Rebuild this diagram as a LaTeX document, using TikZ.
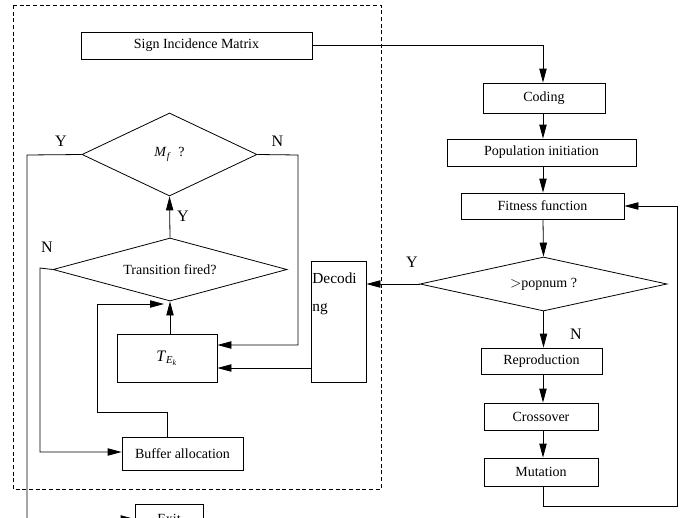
\documentclass[tikz,border=0pt]{standalone}
\usepackage{fontspec}
\setmainfont{Liberation Serif}
\usetikzlibrary{arrows.meta,shapes.geometric}
\begin{document}
\begin{tikzpicture}[x=0.75pt,y=-0.75pt,
  line width=0.6pt,
  wh/.style 2 args={minimum width=#1*0.75pt, minimum height=#2*0.75pt},
  box/.style={draw, rectangle, inner sep=0pt, font=\fontsize{10.5}{12}\selectfont},
  test/.style={draw, diamond, inner sep=0pt, font=\fontsize{10.5}{12}\selectfont},
  yn/.style={inner sep=0pt, font=\fontsize{12}{14}\selectfont},
  flow/.style={-{Triangle[length=10.5pt,width=5.5pt]}},
  frame/.style={dash pattern=on 3pt off 2pt, line width=0.6pt}]
\clip (0,0) rectangle (686,518);

% dashed frame around the Petri-net part
\draw[frame] (13,5) rectangle (381,489);

% genetic algorithm column
\node[box, wh={231}{27}] (sim) at (196.5,45.5) {Sign Incidence Matrix};
\node[box, wh={122}{30}] (coding) at (544,98) {Coding};
\node[box, wh={189}{27}] (pop) at (541.5,152.5) {Population initiation};
\node[box, wh={163}{26}] (fit) at (542.5,206) {Fitness function};
\node[test, wh={247}{54}, shape aspect=4.6] (pn) at (543.5,284) {$>$popnum ?};
\node[box, wh={121}{26}] (rep) at (541.5,361) {Reproduction};
\node[box, wh={114}{27}] (cross) at (541,416.5) {Crossover};
\node[box, wh={114}{28}] (mut) at (541,472) {Mutation};

% decoding block
\node[draw, rectangle, inner sep=0pt, wh={55}{121}] (dec) at (338.5,321.5) {};
\node[anchor=north west, inner sep=0pt, align=left,
      font=\fontsize{11.5}{21}\selectfont] (dectext) at (312,272) {Decodi\\ng};

% Petri-net part
\node[test, wh={175}{83}, shape aspect=2.1] (mf) at (169.5,154.5)
  {\textit{M}\textsubscript{\textit{f}}\ \ ?};
\node[test, wh={234}{63}, shape aspect=3.7] (tr) at (170,269.5) {Transition fired?};
\node[box, wh={100}{48}, font=\fontsize{12}{14}\selectfont] (te) at (167,358)
  {\textit{T}\textsubscript{\textit{E}\textsubscript{\textit{k}}}};
\node[box, wh={121}{33}] (buf) at (182.5,453.5) {Buffer allocation};
\node[box, wh={68}{30}] (exit) at (169,519) {Exit};

% bend points
\coordinate (fb) at (677,506);
\coordinate (mfl) at (27,155);
\coordinate (mfr) at (298,155);
\coordinate (trl) at (40,268);
\coordinate (bufup) at (167,412);
\coordinate (loopl) at (97,412);
\coordinate (looptip) at (164,304);

% labels
\node[yn] (ymf) at (61,141.5) {Y};
\node[yn] (nmf) at (277.5,141.5) {N};
\node[yn] (ytr) at (183,216) {Y};
\node[yn] (ntr) at (47,247) {N};
\node[yn] (ypn) at (412,262.5) {Y};
\node[yn] (npn) at (576,334) {N};

% connectors of the genetic algorithm
\draw[flow] (sim.east) -| (coding.north -| 543,0);
\draw[flow] (coding.south -| 543,0) -- (pop.north -| 543,0);
\draw[flow] (pop.south -| 543,0) -- (fit.north -| 543,0);
\draw[flow] (fit.south -| 543,0) -- (pn.north);
\draw[flow] (pn.south) -- (rep.north -| pn.south);
\draw[flow] (rep.south -| 543,0) -- (cross.north -| 543,0);
\draw[flow] (cross.south -| 543,0) -- (mut.north -| 543,0);
\draw[flow] (mut.south -| 543,0) -- (fb -| 543,0) -- (fb) -- (fb |- fit.east) -- (fit.east);
\draw[flow] (pn.west) -- (pn.west -| dec.east);

% connectors of the Petri-net part
\draw[flow] (dec.west |- 0,368) -- (te.east |- 0,368);
\draw[flow] (mf.east) -- (mfr) -- (mfr |- 0,345) -- (te.east |- 0,345);
\draw[flow] (mf.west) -- (mfl) -- (mfl |- exit.west) -- (exit.west);
\draw[flow] (tr.north) -- (mf.south);
\draw[flow] (te.north -| tr.south) -- (tr.south);
\draw[flow] (tr.west) -- (trl) -- (trl |- 0,452) -- (buf.west |- 0,452);
\draw[flow] (buf.north -| bufup) -- (bufup) -- (loopl) -- (loopl |- looptip) -- (looptip);
\end{tikzpicture}
\end{document}
